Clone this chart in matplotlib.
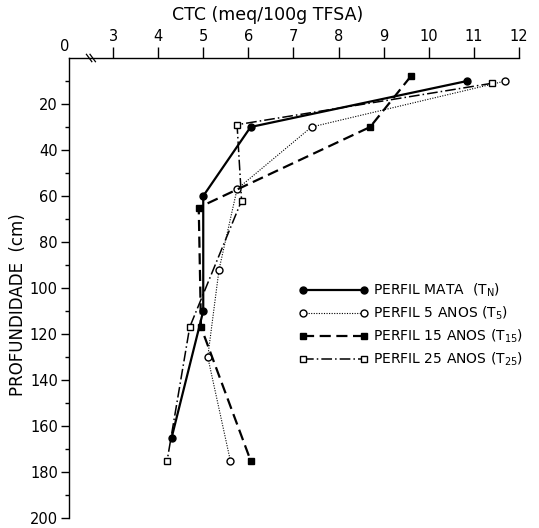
import matplotlib
matplotlib.use("Agg")
import matplotlib.pyplot as plt

# CTC (meq/100g TFSA) por profundidade (cm)
depth_mata = [10, 30, 60, 110, 165]
ctc_mata = [10.85, 6.05, 5.0, 5.0, 4.3]

depth_5 = [10, 30, 57, 92, 130, 175]
ctc_5 = [11.7, 7.4, 5.75, 5.35, 5.1, 5.6]

depth_15 = [8, 30, 65, 117, 175]
ctc_15 = [9.6, 8.7, 4.9, 4.95, 6.05]

depth_25 = [11, 29, 62, 117, 175]
ctc_25 = [11.4, 5.75, 5.85, 4.7, 4.2]

labels = ["PERFIL MATA  (T$_{N}$)", "PERFIL 5 ANOS (T$_{5}$)",
          "PERFIL 15 ANOS (T$_{15}$)", "PERFIL 25 ANOS (T$_{25}$)"]

x_ticks = [3, 4, 5, 6, 7, 8, 9, 10, 11, 12]
y_major = list(range(20, 201, 20))
y_minor = list(range(10, 200, 20))

plt.rcParams["font.family"] = ["DejaVu Sans"]
plt.rcParams["mathtext.default"] = "regular"

fig = plt.figure(figsize=(5.39, 5.28), dpi=100)
ax = fig.add_axes([69 / 539, 10 / 528, 450 / 539, 460 / 528])

ax.plot(ctc_mata, depth_mata, color="black", lw=1.6, marker="o", ms=5,
        mfc="black", label=labels[0])
ax.plot(ctc_5, depth_5, color="black", lw=0.8, dashes=(1, 1.3), marker="o",
        ms=5, mfc="white", label=labels[1])
ax.plot(ctc_15, depth_15, color="black", lw=1.6, dashes=(5, 2.5), marker="s",
        ms=4, mfc="black", label=labels[2])
ax.plot(ctc_25, depth_25, color="black", lw=1.1, dashes=(7, 2, 1, 2),
        marker="s", ms=4, mfc="white", label=labels[3])

ax.set_xlim(2.024, 12.0)
ax.set_ylim(200, 0)

for s in ["bottom", "right"]:
    ax.spines[s].set_visible(False)
ax.spines["top"].set_linewidth(1.0)
ax.spines["left"].set_linewidth(1.0)

ax.xaxis.tick_top()
ax.set_xticks(x_ticks)
ax.set_xticklabels([str(v) for v in x_ticks])
ax.tick_params(axis="x", direction="out", length=8, width=1.0, pad=2,
               labelsize=10.5)
ax.set_yticks(y_major)
ax.set_yticks(y_minor, minor=True)
ax.tick_params(axis="y", which="major", direction="out", length=6, width=1.0,
               pad=2, labelsize=10.5)
ax.tick_params(axis="y", which="minor", direction="out", length=3, width=1.0)

# "0" at the broken origin and the break marks
ax.annotate("0", xy=(0, 1), xycoords="axes fraction", xytext=(-3, 8),
            textcoords="offset points", ha="center", va="center",
            fontsize=10.5)
for xb in [2.47, 2.55]:
    ax.plot([xb - 0.06, xb + 0.06], [-1.6, 1.6], color="black", lw=0.9,
            clip_on=False)

fig.text(268 / 539, 1 - 15 / 528, "CTC (meq/100g TFSA)", ha="center",
         va="center", fontsize=12.5)
fig.text(18 / 539, 1 - 305 / 528, "PROFUNDIDADE  (cm)", rotation=90,
         ha="center", va="center", fontsize=12)

ax.legend(loc="upper left", bbox_to_anchor=(299 / 539, 1 - 282 / 528),
          bbox_transform=fig.transFigure, frameon=False, numpoints=2,
          handlelength=5.0, handletextpad=0.3, labelspacing=0.4,
          borderpad=0, borderaxespad=0, fontsize=10)

fig.savefig("out.png", dpi=100)
